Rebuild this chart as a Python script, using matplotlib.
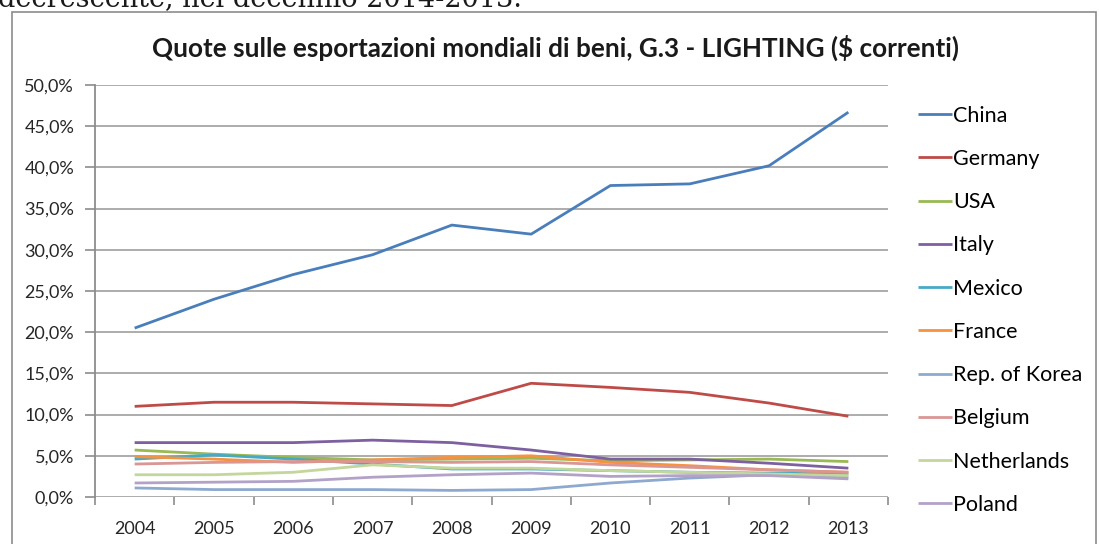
import matplotlib.pyplot as plt
from matplotlib.patches import Rectangle
from matplotlib.ticker import FuncFormatter

# quote % sulle esportazioni mondiali, 2004-2013
years = [2004, 2005, 2006, 2007, 2008, 2009, 2010, 2011, 2012, 2013]

china = [20.5, 24.0, 27.0, 29.4, 33.0, 31.9, 37.8, 38.0, 40.2, 46.7]
germany = [11.0, 11.5, 11.5, 11.3, 11.1, 13.8, 13.3, 12.7, 11.4, 9.8]
usa = [5.7, 5.2, 4.8, 4.5, 4.6, 4.7, 4.4, 4.5, 4.6, 4.3]
italy = [6.6, 6.6, 6.6, 6.9, 6.6, 5.7, 4.6, 4.6, 4.1, 3.5]
mexico = [4.6, 5.1, 4.6, 4.0, 3.4, 3.4, 3.2, 3.0, 2.9, 2.8]
france = [4.9, 4.6, 4.2, 4.5, 4.8, 5.0, 4.2, 3.8, 3.3, 3.0]
korea = [1.1, 0.9, 0.9, 0.9, 0.8, 0.9, 1.7, 2.3, 2.7, 2.4]
belgium = [4.0, 4.2, 4.3, 4.3, 4.2, 4.3, 3.9, 3.6, 3.3, 3.0]
netherlands = [2.7, 2.7, 3.0, 3.9, 3.5, 3.5, 3.2, 3.0, 2.8, 2.6]
poland = [1.7, 1.8, 1.9, 2.4, 2.7, 2.9, 2.5, 2.6, 2.6, 2.2]

countries = ['China', 'Germany', 'USA', 'Italy', 'Mexico', 'France',
             'Rep. of Korea', 'Belgium', 'Netherlands', 'Poland']
values = [china, germany, usa, italy, mexico, france,
          korea, belgium, netherlands, poland]
colors = ['#4A7EBB', '#BE4B48', '#98B954', '#7D60A0', '#46AAC5', '#F69240',
          '#8EA9CF', '#D99694', '#C3D69B', '#B3A2C7']

fig = plt.figure(figsize=(10.99, 5.44), dpi=100)

# cornice del grafico
fig.patches.append(Rectangle((12 / 1099, -0.05), 1084 / 1099, 1 - 12 / 544 + 0.05,
                             transform=fig.transFigure, fill=False,
                             edgecolor='#8C8C8C', linewidth=1.2))

# riga di testo del documento, tagliata in alto
fig.text(-0.002, 1 - 6 / 544, 'decrescente, nel decennio 2014-2013.',
         family='DejaVu Serif', fontsize=19.5, va='baseline', ha='left', color='#1a1a1a')

fig.text(556 / 1099, 1 - 48 / 544,
         'Quote sulle esportazioni mondiali di beni, G.3 - LIGHTING ($ correnti)',
         family='Lato', fontweight='bold', fontsize=18.8, ha='center', va='center',
         color='#1a1a1a')

ax = fig.add_axes([95 / 1099, 1 - 497 / 544, 793 / 1099, 412 / 544])

x = list(range(len(years)))
for name, vals, col in zip(countries, values, colors):
    ax.plot(x, vals, color=col, linewidth=2.0, label=name, solid_capstyle='butt')

ax.set_xlim(-0.5, len(years) - 0.5)
ax.set_ylim(0, 50)
ax.set_yticks(range(0, 51, 5))
ax.yaxis.set_major_formatter(FuncFormatter(lambda v, p: f'{v:.1f}%'.replace('.', ',')))
ax.set_xticks(x)
ax.set_xticklabels([str(y) for y in years])
ax.set_xticks([i - 0.5 for i in range(len(years) + 1)], minor=True)

ax.grid(axis='y', color='#A6A6A6', linewidth=1.3)
ax.set_axisbelow(True)
for s in ['top', 'right', 'bottom']:
    ax.spines[s].set_visible(False)
ax.spines['left'].set_color('#8C8C8C')
ax.spines['left'].set_linewidth(1.3)

ax.tick_params(axis='y', length=7, color='#8C8C8C', width=1.2, labelsize=13,
               labelcolor='#262626', pad=8)
ax.tick_params(axis='x', which='major', length=0, labelsize=13,
               labelcolor='#262626', pad=17)
ax.tick_params(axis='x', which='minor', length=6, color='#8C8C8C', width=1.2)
for lab in ax.get_xticklabels() + ax.get_yticklabels():
    lab.set_family('Lato')

leg = ax.legend(loc='upper left', bbox_to_anchor=(1.013, 0.997), frameon=False,
                handlelength=1.6, handletextpad=0.05, labelspacing=1.08,
                prop={'family': 'Lato', 'size': 15.5})

fig.savefig('out.png', dpi=100)
